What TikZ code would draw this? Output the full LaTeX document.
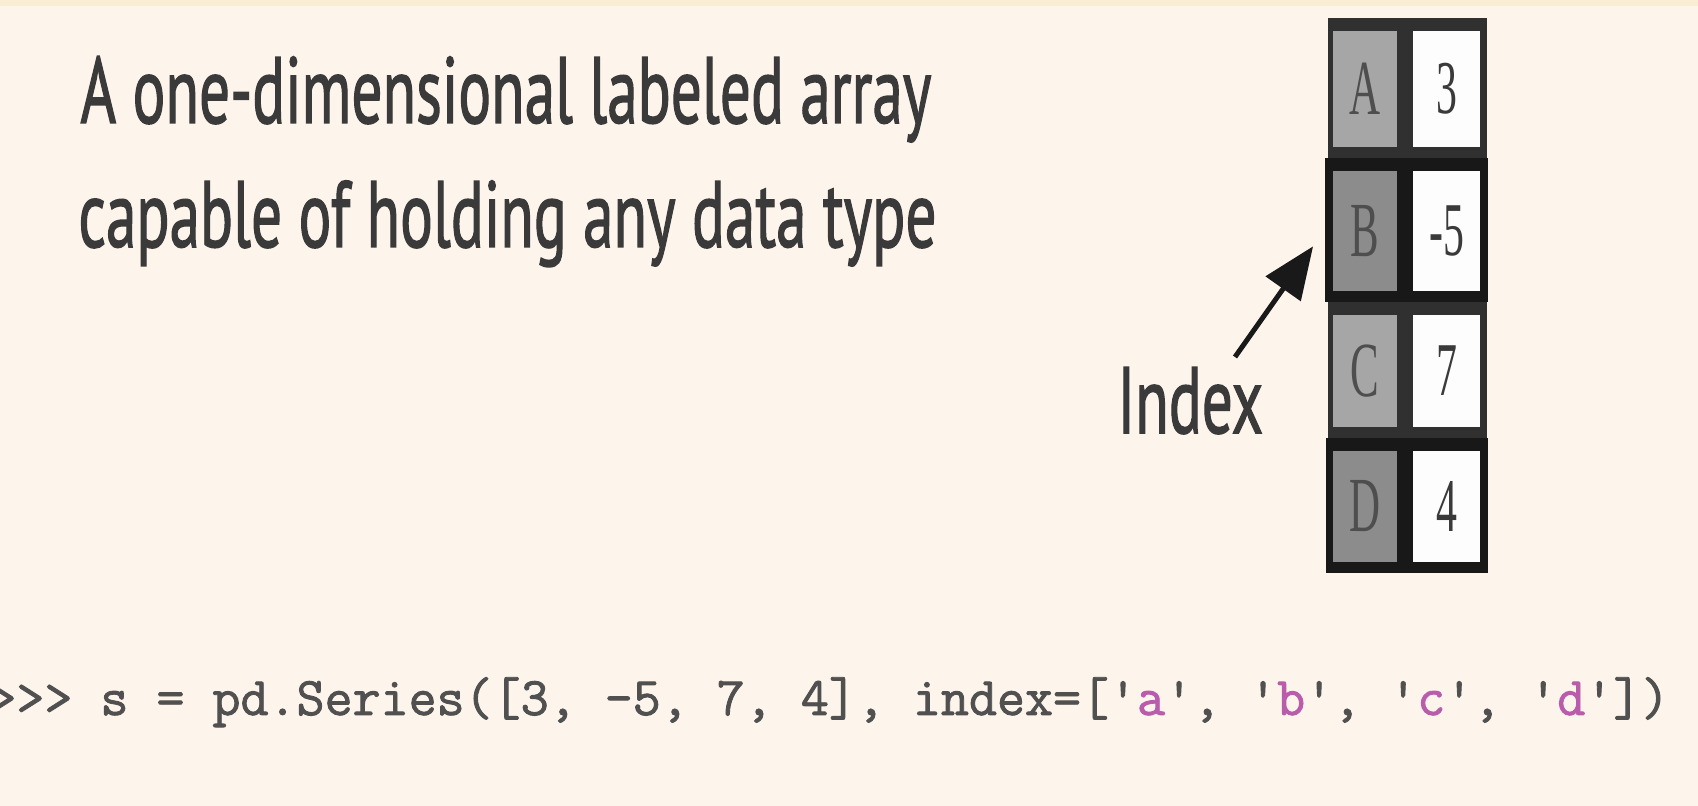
\documentclass[tikz,border=0pt]{standalone}
\usepackage{fontspec}
\usetikzlibrary{arrows.meta,fit,calc}
\newfontfamily\headfont[FakeBold=1.6]{PT Sans}
\newfontfamily\codefont[FakeBold=1.6]{Latin Modern Mono}
\newfontfamily\cellfont{Liberation Serif}
\definecolor{paper}{RGB}{253,244,235}
\definecolor{topband}{RGB}{251,237,212}
\definecolor{ink}{RGB}{58,58,58}
\definecolor{codeink}{RGB}{80,80,80}
\definecolor{codepink}{RGB}{186,92,172}
\definecolor{frameA}{RGB}{48,48,48}
\definecolor{frameB}{RGB}{24,24,24}
\definecolor{cellA}{RGB}{166,166,166}
\definecolor{cellB}{RGB}{140,140,140}
\definecolor{valcell}{RGB}{253,253,253}
\newlength\headw
% horizontal squeeze so the heading sets to its measured width
\AtBeginDocument{%
  \settowidth\headw{\headfont\fontsize{47}{56}\selectfont A one-dimensional labeled array}%
  \pgfmathsetmacro\hsx{425.5pt/\headw}%
  \global\let\hsx\hsx}
\begin{document}
\begin{tikzpicture}[x=0.5pt,y=-0.5pt,
  head/.style={inner sep=0pt, text=ink, font=\headfont\fontsize{47}{56}\selectfont},
  code/.style={inner sep=0pt, text=codeink, font=\codefont\fontsize{27.2}{30}\selectfont},
  rowframe/.style={inner sep=0pt, draw=none},
  keycell/.style={inner sep=0pt, draw=none},
  valcellst/.style={inner sep=0pt, draw=none, fill=valcell},
  keytext/.style={inner sep=0pt, text=ink!90, font=\cellfont\fontsize{39}{44}\selectfont},
  valtext/.style={inner sep=0pt, text=ink, font=\cellfont\fontsize{38}{44}\selectfont},
  arr/.style={line width=2.5pt, color=black!90, -{Triangle[length=26pt,width=21pt]}, shorten >=10pt}]
  \useasboundingbox (0,0) rectangle (1698,806);
  \fill[paper] (0,0) rectangle (1698,806);
  \fill[topband] (0,0) rectangle (1698,6);

  \node[head, anchor=base west] (head1) at (80,123) {\scalebox{\hsx}[1]{A one-dimensional labeled array}};
  \node[head, anchor=base west] (head2) at (78,247) {\scalebox{\hsx}[1]{capable of holding any data type}};

  % the series: one framed row per entry, index cell on the left, value on the right
  \foreach \n/\l/\r/\t/\b/\fc/\cc/\V in {
      A/1328/1487/18/158/frameA/cellA/3,
      B/1325/1488/158/302/frameB/cellB/-5,
      C/1328/1487/302/438/frameA/cellA/7,
      D/1326/1488/438/573/frameB/cellB/4} {
    \node[rowframe, fill=\fc, fit={(\l,\t) (\r,\b)}] (row\n) {};
    \node[keycell, fill=\cc, fit={(1333,\t+13) (1397,\b-11)}] (key\n) {};
    \node[valcellst, fit={(1413,\t+13) (1480,\b-11)}] (val\n) {};
    \node[keytext] (keylabel\n) at (key\n.center) {\scalebox{0.55}[1]{\n}};
    \node[valtext] (vallabel\n) at (val\n.center) {\scalebox{0.55}[1]{\V}};
  }

  \node[head, anchor=base west] (idx) at (1117,433) {\scalebox{\hsx}[1]{Index}};
  \coordinate (tail) at (1235,357);
  \draw[arr] (tail) -- (rowB.west);

  \node[code, anchor=base west] (code) at (-12,715)
    {>>> s = pd.Series([3, -5, 7, 4], index=[\textquotesingle\textcolor{codepink}{a}\textquotesingle, \textquotesingle\textcolor{codepink}{b}\textquotesingle, \textquotesingle\textcolor{codepink}{c}\textquotesingle, \textquotesingle\textcolor{codepink}{d}\textquotesingle])};
\end{tikzpicture}
\end{document}
